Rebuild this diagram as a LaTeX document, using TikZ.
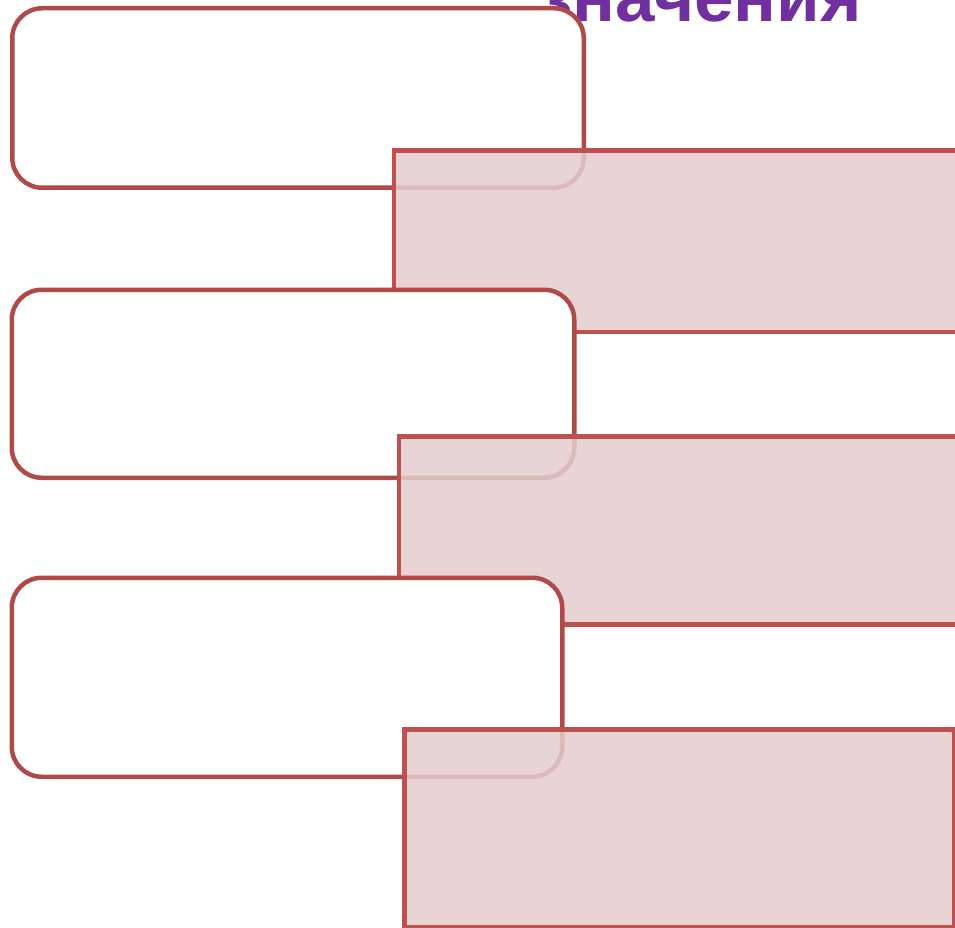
\documentclass[tikz,border=0pt]{standalone}
\usepackage{fontspec}
\setmainfont{Liberation Sans}
\definecolor{boxred}{HTML}{B04A48}
\definecolor{rectred}{HTML}{C0504D}
\definecolor{rectfill}{RGB}{228,205,205}
\definecolor{titlepurple}{HTML}{7030A0}
\begin{document}
\begin{tikzpicture}[x=1pt,y=-1pt,
  roundbox/.style={draw=boxred, fill=white, line width=4.5pt, rounded corners=30pt,
    inner sep=0pt, anchor=north west},
  pinkrect/.style={draw=rectred, fill=rectfill, fill opacity=0.86, draw opacity=1,
    line width=4.5pt, inner sep=0pt, anchor=north west},
  titletext/.style={anchor=base west, inner sep=0pt, text=titlepurple,
    font=\fontsize{71}{71}\bfseries\selectfont}]
\useasboundingbox (0,0) rectangle (955,928);
\node[titletext] (title) at (537,22) {значения};
\node[roundbox, minimum width=571.5pt, minimum height=179.5pt] (b1) at (10,6) {};
\node[pinkrect, minimum width=580pt, minimum height=181pt] (r1) at (391.5,148.5) {};
\node[roundbox, minimum width=562.5pt, minimum height=188pt] (b2) at (9.5,287.5) {};
\node[pinkrect, minimum width=575pt, minimum height=188pt] (r2) at (396.5,434) {};
\node[roundbox, minimum width=550.5pt, minimum height=199pt] (b3) at (9.5,575.5) {};
\node[pinkrect, minimum width=550pt, minimum height=198pt] (r3) at (402,727) {};
\end{tikzpicture}
\end{document}
